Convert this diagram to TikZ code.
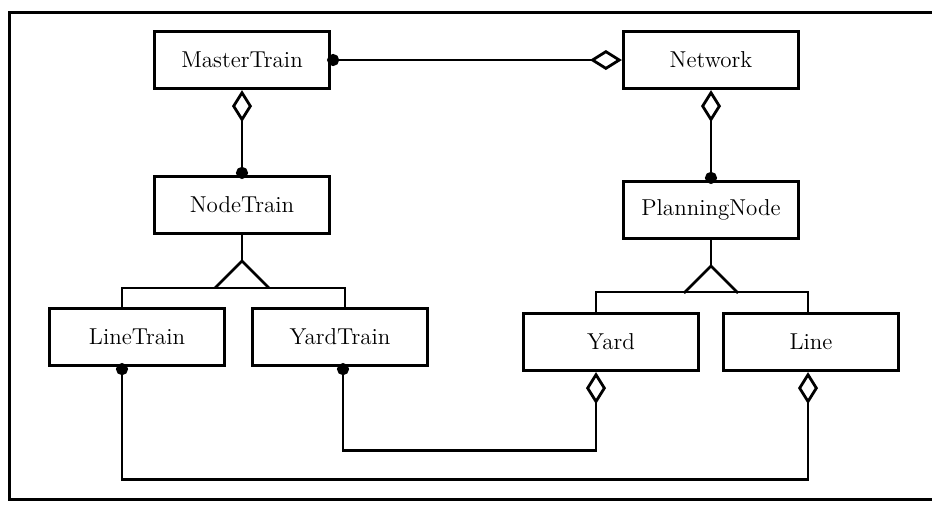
\documentclass[tikz,border=0pt]{standalone}
\usepackage{tikz}
\usetikzlibrary{arrows.meta,positioning}

\begin{document}
\begin{tikzpicture}[x=0.5pt, y=-0.5pt, line width=1.4pt,
    every node/.style={font=\fontsize{11.5}{13}\selectfont},
    classbox/.style={draw, line width=1.6pt, minimum width=87.5pt, minimum height=28.5pt, inner sep=0pt},
    agg/.style={{Diamond[open, length=16pt, width=10pt]}-{Circle[length=6pt]}, shorten >=-2pt}]
    \useasboundingbox (0,0) rectangle (932,505);
    % Frame
    \draw[line width=1.5pt] (932,12) -| (9,499) -- (932,499);

    % Classes
    \node[classbox] (MasterTrain) at (242,60) {MasterTrain};
    \node[classbox] (Network) at (711,60) {Network};
    \node[classbox] (NodeTrain) at (242,205) {NodeTrain};
    \node[classbox] (PlanningNode) at (711,210) {PlanningNode};
    \node[classbox] (LineTrain) at (137,337) {LineTrain};
    \node[classbox] (YardTrain) at (340,337) {YardTrain};
    \node[classbox] (Yard) at (611,342) {Yard};
    \node[classbox] (Line) at (811,342) {Line};

    % Aggregations
    \draw[agg] (Network) -- (MasterTrain);
    \draw[agg] (MasterTrain) -- (NodeTrain);
    \draw[agg] (Network) -- (PlanningNode);
    \draw[agg] ([xshift=-7.5pt]Yard.south) -- ++(0,78) -| ([xshift=1.5pt]YardTrain.south);
    \draw[agg] ([xshift=-1.5pt]Line.south) -- ++(0,107) -| ([xshift=-7.5pt]LineTrain.south);

    % Generalisation of NodeTrain
    \coordinate (ntTip) at (242,261);
    \draw (NodeTrain) -- (ntTip);
    \draw (ntTip) ++(-27,27) -- (ntTip) -- ++(27,27);
    \draw ([xshift=-7.5pt]LineTrain.north) -- ++(0,-19) -| ([xshift=2.5pt]YardTrain.north);

    % Generalisation of PlanningNode
    \coordinate (pnTip) at (711,266);
    \draw (PlanningNode) -- (pnTip);
    \draw (pnTip) ++(-27,27) -- (pnTip) -- ++(27,27);
    \draw ([xshift=-7.5pt]Yard.north) -- ++(0,-20) -| ([xshift=-1.5pt]Line.north);
\end{tikzpicture}
\end{document}
